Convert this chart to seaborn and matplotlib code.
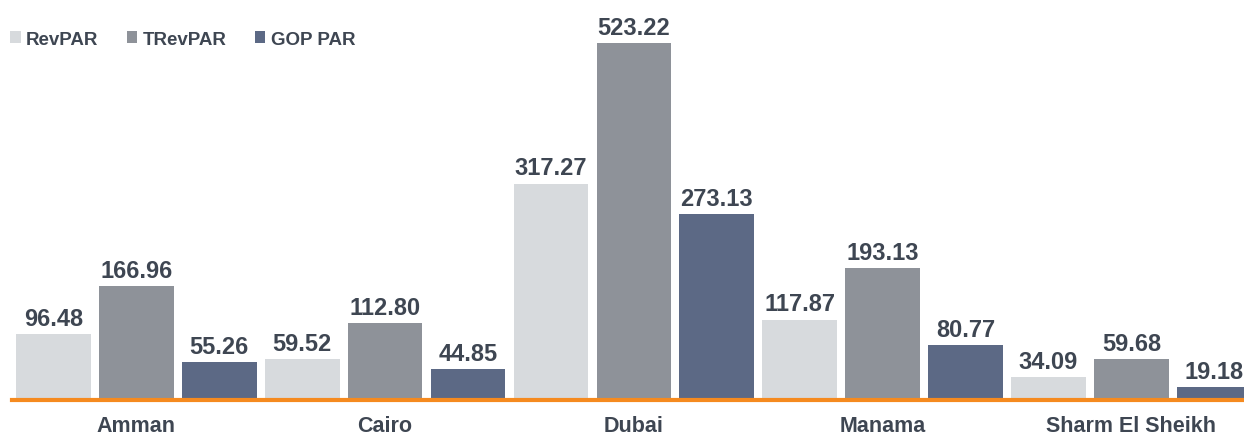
import matplotlib
matplotlib.use("Agg")
import matplotlib.pyplot as plt
import seaborn as sns
import pandas as pd

cities = ["Amman", "Cairo", "Dubai", "Manama", "Sharm El Sheikh"]
metrics = ["RevPAR", "TRevPAR", "GOP PAR"]
revpar = [96.48, 59.52, 317.27, 117.87, 34.09]
trevpar = [166.96, 112.80, 523.22, 193.13, 59.68]
goppar = [55.26, 44.85, 273.13, 80.77, 19.18]
colors = ["#D7DADD", "#8E9299", "#5C6985"]

rows = []
for m, vals in zip(metrics, [revpar, trevpar, goppar]):
    for c, v in zip(cities, vals):
        rows.append({"city": c, "metric": m, "value": v})
df = pd.DataFrame(rows)

sns.set_theme(style="white")
plt.rcParams["font.family"] = ["Liberation Sans", "DejaVu Sans"]
text_color = "#3E4652"

fig = plt.figure(figsize=(12.44, 4.35), dpi=100)
W, H = 1244, 435
ax = fig.add_axes([12 / W, (H - 401) / H, 1243.75 / W, 401 / H])

sns.barplot(data=df, x="city", y="value", hue="metric", order=cities,
            hue_order=metrics, palette=colors, width=1.0, gap=0.1,
            saturation=1, ax=ax, linewidth=0, legend=True)

for cont in ax.containers:
    ax.bar_label(cont, labels=[f"{v:.2f}" for v in cont.datavalues],
                 padding=3, fontsize=17, fontweight="bold", color=text_color)

ax.set_xlim(-0.5, 4.5)
ax.set_ylim(0, 588)
ax.set_xlabel("")
ax.set_ylabel("")
ax.set_yticks([])
ax.tick_params(axis="x", length=0, pad=11)
for lab in ax.get_xticklabels():
    lab.set_fontsize(15.5)
    lab.set_fontweight("bold")
    lab.set_color(text_color)
for s in ["top", "right", "left"]:
    ax.spines[s].set_visible(False)
ax.spines["bottom"].set_color("#F58A1F")
ax.spines["bottom"].set_linewidth(3)

leg = ax.legend(loc="upper left", bbox_to_anchor=(-0.015, 0.963), ncol=3,
                frameon=False, handlelength=0.55, handleheight=0.55,
                handletextpad=0.3, columnspacing=1.5,
                prop={"weight": "bold", "size": 13.5})
for t in leg.get_texts():
    t.set_color(text_color)

fig.savefig("out.png", dpi=100)
